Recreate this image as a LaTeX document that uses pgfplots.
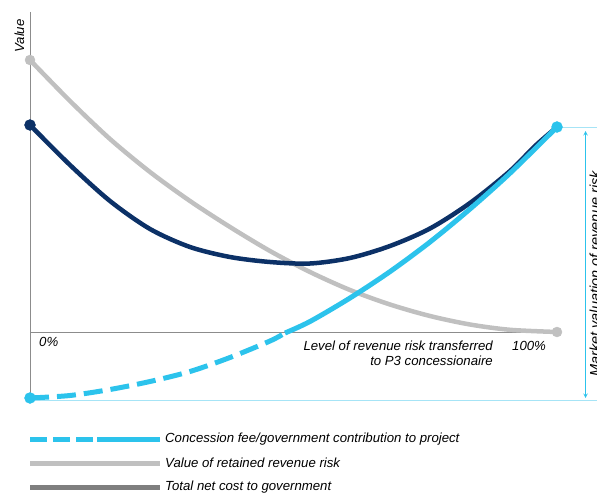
\documentclass[border=0pt]{standalone}
\usepackage{pgfplots}
\pgfplotsset{compat=1.18}
\usepackage{fontspec}
\setmainfont{Liberation Sans}
\definecolor{cyanc}{HTML}{2CC3EC}
\definecolor{navyc}{HTML}{0C3167}
\definecolor{grayc}{HTML}{C0C0C0}
\definecolor{leggray}{HTML}{7F7F7F}
\definecolor{axgray}{HTML}{8C8C8C}
\definecolor{lightc}{HTML}{A6E4F6}
\begin{document}
\begin{tikzpicture}
\begin{axis}[name=ax,
  width=597bp, height=493bp, scale only axis,
  xmin=0, xmax=597, ymin=0, ymax=493, y dir=reverse,
  axis lines=none, clip=false,
  every axis plot/.append style={line cap=butt},
  font=\fontsize{13.2bp}{15bp}\selectfont\itshape]
% axes lines
\addplot[axgray, line width=1bp, forget plot] coordinates {(30,12) (30,402)};
\addplot[axgray, line width=1bp, forget plot] coordinates {(30,332.5) (557,332.5)};
% thin reference lines
\addplot[lightc, line width=0.8bp, forget plot] coordinates {(557,127.5) (597,127.5)};
\addplot[lightc, line width=0.8bp, forget plot] coordinates {(30,400) (597,400)};
% value of retained revenue risk (gray)
\addplot[grayc, line width=4.5bp, smooth, forget plot] coordinates {
(30,60) (70,101) (110,139) (150,172) (190,201) (230,227) (270,251) (310,272) (350,290) (390,304.5) (430,316) (470,324.5) (510,329.8) (557,332)};
% total net cost (navy)
\addplot[navyc, line width=4.5bp, smooth, forget plot] coordinates {
(30,125) (70,165) (110,201) (150,229) (190,247) (230,257) (270,262) (310,263.5) (350,258) (390,246) (430,228.5) (470,203) (510,171) (535,146) (557,127)};
% concession fee dashed part
\addplot[cyanc, line width=5bp, smooth, dash pattern=on 19bp off 8bp, forget plot] coordinates {
(30,398) (70,395.5) (110,389.5) (150,381.5) (190,371.5) (230,357.5) (270,341) (285,333)};
% concession fee solid part
\addplot[cyanc, line width=5bp, smooth, forget plot] coordinates {
(285,333) (310,321.5) (350,298) (390,271.6) (430,242) (470,209) (510,173.2) (557,127)};
% end markers
\addplot[only marks, mark=*, mark size=5bp, mark options={grayc, fill=grayc}, forget plot] coordinates {(30,60) (557,332)};
\addplot[only marks, mark=*, mark size=5.5bp, mark options={navyc, fill=navyc}, forget plot] coordinates {(30,125)};
\addplot[only marks, mark=*, mark size=5.5bp, mark options={cyanc, fill=cyanc}, forget plot] coordinates {(30,398) (557,127)};
% arrow
\draw[cyanc, line width=1bp, <->, >=stealth] (axis cs:585.5,131) -- (axis cs:585.5,398);
% labels
\node[rotate=90, anchor=south, inner sep=0pt] at (axis cs:24.5,36) {Value};
\node[anchor=west, inner sep=0pt] at (axis cs:39,342) {0\%};
\node[anchor=west, inner sep=0pt] at (axis cs:512,346) {100\%};
\node[anchor=east, inner sep=0pt, align=right] at (axis cs:493,353) {Level of revenue risk transferred\\to P3 concessionaire};
\node[rotate=90, anchor=north, inner sep=0pt, font=\fontsize{14.5bp}{16bp}\selectfont\itshape] at (axis cs:589.5,274) {Market valuation of revenue risk};
% legend
\addplot[cyanc, line width=5bp, dash pattern=on 17bp off 6bp, forget plot] coordinates {(30,439) (94,439)};
\addplot[cyanc, line width=5bp, forget plot] coordinates {(97,439) (160,439)};
\addplot[grayc, line width=5bp, forget plot] coordinates {(30,463.5) (160,463.5)};
\addplot[leggray, line width=5bp, forget plot] coordinates {(30,487.5) (160,487.5)};
\node[anchor=west, inner sep=0pt] at (axis cs:165,439) {Concession fee/government contribution to project};
\node[anchor=west, inner sep=0pt] at (axis cs:165,463) {Value of retained revenue risk};
\node[anchor=west, inner sep=0pt] at (axis cs:165,487) {Total net cost to government};
\end{axis}
\pgfresetboundingbox
\path (ax.south west) rectangle (ax.north east);
\end{tikzpicture}
\end{document}
